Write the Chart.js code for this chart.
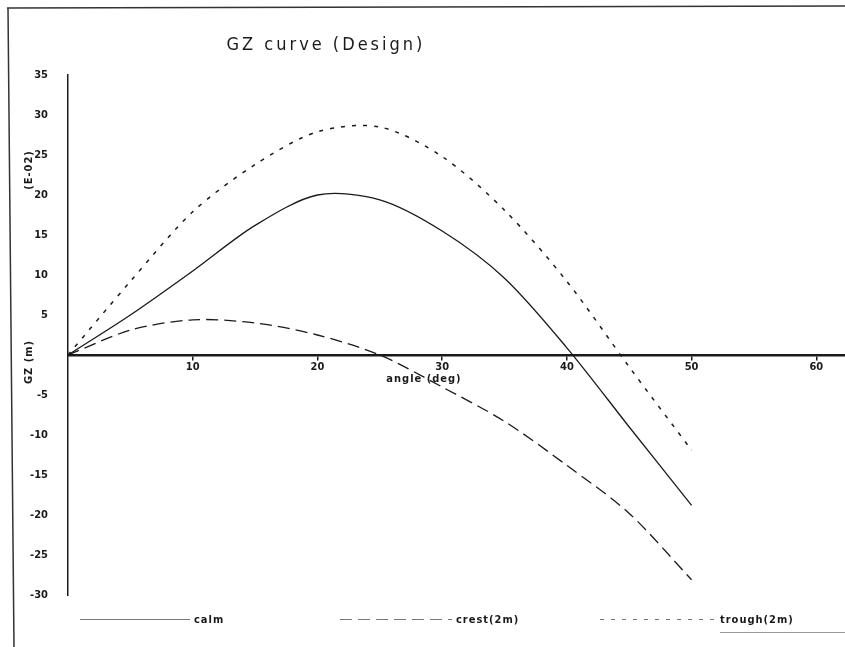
<!DOCTYPE html>
<html>
<head>
<meta charset="utf-8">
<title>GZ curve (Design)</title>
<script src="https://cdn.jsdelivr.net/npm/chart.js@4/dist/chart.umd.min.js"></script>
<style>
  html, body { margin: 0; padding: 0; background: #fff; }
  #wrap { width: 845px; height: 647px; position: relative; }
</style>
</head>
<body>
<div id="wrap"><canvas id="chart-output"></canvas></div>
<script>
// heel angle (deg)
var angles = [0, 5, 10, 15, 20, 25, 30, 35, 40, 45, 50];
// GZ values, in units of 1E-02 m
var calm   = [0, 5.0, 10.5, 16.2, 20.0, 19.4, 15.5, 9.6, 0.9, -9.0, -18.8];
var crest  = [0, 3.1, 4.4, 4.0, 2.5, 0.0, -4.0, -8.3, -13.8, -19.8, -28.1];
var trough = [0, 9.2, 17.9, 23.8, 27.9, 28.5, 24.8, 18.1, 9.2, -1.5, -11.9];

// no label at 0 on either axis
var xTickValues = [10, 20, 30, 40, 50, 60];
var yTickValues = [-30, -25, -20, -15, -10, -5, 5, 10, 15, 20, 25, 30, 35];
var seriesNames = ["calm", "crest(2m)", "trough(2m)"];

var ink = "#1a1a1a";
var lblFont = { family: "'DejaVu Sans Condensed', 'Liberation Sans Narrow', sans-serif", size: 11, weight: "bold" };

function pts(ys) {
  return angles.map(function (a, i) { return { x: a, y: ys[i] }; });
}

// extra text + frame drawn on top of the chart
var decor = {
  id: "decor",
  afterDraw: function (chart) {
    var ctx = chart.ctx;
    ctx.save();

    // scanned page frame
    ctx.strokeStyle = "#333";
    ctx.lineWidth = 1.5;
    ctx.beginPath();
    ctx.moveTo(7, 8); ctx.lineTo(845, 6);
    ctx.moveTo(8, 8); ctx.lineTo(14, 647);
    ctx.stroke();
    ctx.strokeStyle = "#999";
    ctx.lineWidth = 1;
    ctx.beginPath();
    ctx.moveTo(720, 632.5); ctx.lineTo(845, 632.5);
    ctx.stroke();

    ctx.fillStyle = ink;
    // title
    ctx.font = "18px 'Liberation Sans Narrow', 'DejaVu Sans Condensed', sans-serif";
    ctx.letterSpacing = "3px";
    ctx.textAlign = "center";
    ctx.textBaseline = "middle";
    ctx.fillText("GZ curve (Design)", 326, 45);

    // axis titles
    ctx.font = "bold 11px 'DejaVu Sans Condensed', sans-serif";
    ctx.letterSpacing = "1px";
    ctx.fillText("angle (deg)", 424, 379);

    ctx.save();
    ctx.translate(29, 362);
    ctx.rotate(-Math.PI / 2);
    ctx.fillText("GZ (m)", 0, 0);
    ctx.restore();
    ctx.save();
    ctx.translate(29, 170);
    ctx.rotate(-Math.PI / 2);
    ctx.fillText("(E-02)", 0, 0);
    ctx.restore();

    // legend along the bottom
    var spots = [[80, 190], [340, 452], [600, 716]];
    ctx.textAlign = "left";
    chart.data.datasets.forEach(function (ds, i) {
      var s = spots[i];
      ctx.strokeStyle = "#777";
      ctx.lineWidth = 1;
      ctx.setLineDash(ds.borderDash || []);
      ctx.beginPath();
      ctx.moveTo(s[0], 619.5); ctx.lineTo(s[1], 619.5);
      ctx.stroke();
      ctx.setLineDash([]);
      ctx.fillText(ds.label, s[1] + 4, 620);
    });

    ctx.restore();
  }
};

var data = {
  datasets: [
    {
      label: seriesNames[0],
      data: pts(calm),
      borderColor: ink,
      borderWidth: 1.3,
      borderDash: [],
    },
    {
      label: seriesNames[1],
      data: pts(crest),
      borderColor: ink,
      borderWidth: 1.3,
      borderDash: [12, 6],
    },
    {
      label: seriesNames[2],
      data: pts(trough),
      borderColor: ink,
      borderWidth: 1.5,
      borderDash: [4, 7],
    },
  ],
};

var options = {
  responsive: true,
  maintainAspectRatio: false,
  animation: false,
  layout: { padding: { top: 75, bottom: 52, left: 0, right: 0 } },
  elements: {
    point: { radius: 0 },
    line: { tension: 0.3, fill: false },
  },
  plugins: {
    legend: { display: false },
    title: { display: false },
    tooltip: { enabled: false },
  },
  scales: {
    x: {
      type: "linear",
      position: { y: 0 },
      min: 0,
      max: 62.3,
      afterBuildTicks: function (scale) {
        scale.ticks = xTickValues.map(function (v) { return { value: v }; });
      },
      grid: { display: true, drawOnChartArea: false, drawTicks: true, tickLength: 4, color: ink, lineWidth: 1.5 },
      border: { display: true, color: ink, width: 2.5 },
      ticks: { color: ink, font: lblFont, padding: 2, maxRotation: 0 },
    },
    y: {
      type: "linear",
      min: -30,
      max: 35,
      afterBuildTicks: function (scale) {
        scale.ticks = yTickValues.map(function (v) { return { value: v }; });
      },
      afterFit: function (scale) { scale.width = 68; },
      grid: { display: false },
      border: { display: true, color: ink, width: 1.5 },
      ticks: { color: ink, font: lblFont, padding: 12 },
    },
  },
};

var ctx = document.getElementById("chart-output");
var myChart = new Chart(ctx, {
  type: "line",
  data: data,
  options: options,
  plugins: [decor],
});
</script>
</body>
</html>
